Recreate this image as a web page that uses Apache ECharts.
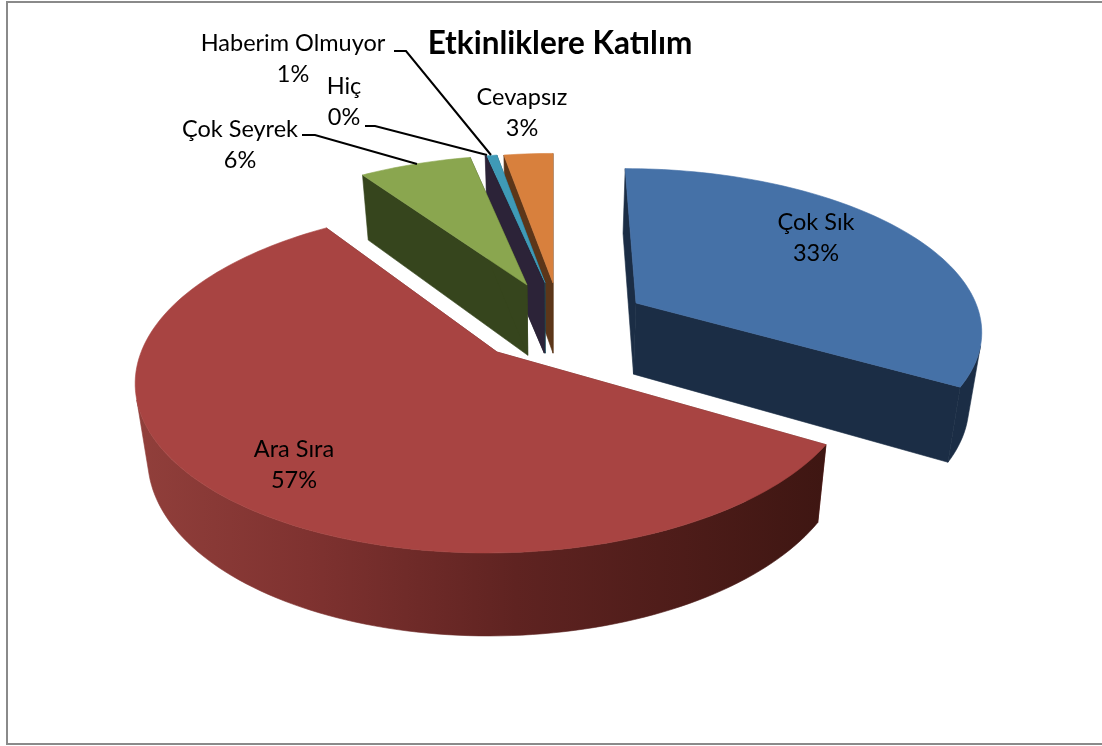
<!DOCTYPE html>
<html><head><meta charset="utf-8">
<style>html,body{margin:0;padding:0;background:#fff}#c{width:1102px;height:746px}</style>
<script src="https://cdn.jsdelivr.net/npm/echarts@6/dist/echarts.min.js"></script>
</head><body><div id="c"></div>
<script>
const chartTitle = 'Etkinliklere Katılım';
const categories = ['Çok Sık', 'Ara Sıra', 'Çok Seyrek', 'Hiç', 'Haberim Olmuyor', 'Cevapsız'];
const shares = [33.4, 57.1, 6.2, 0.04, 0.56, 2.7];

const topColors = ['#4571a7', '#a84442', '#8aa64f', '#2c2338', '#3f9ab7', '#d8803d'];
const sideColors = ['#1b2d45', '#6e2a28', '#36451d', '#2c2338', '#1d4a58', '#5c3619'];
const drawOrder = [2, 6, 5, 4, 3, 1]; // paint rank per category, low = far
const apexes = [[636, 303], [497, 352], [527, 285], [544, 283], [545, 283], [553, 283]];
const labelAnchors = [[816, 238], [294, 465], [240, 145], [344, 102], [293, 59], [522, 113]];
const leaders = [null, null,
  [[302, 135], [315, 135], [417, 164]],
  [[365, 126], [375, 126], [487, 155]],
  [[394, 51], [406, 51], [491, 155]],
  null];

const CX = 553, HORIZON = -730, C = 1052, D = 2272, R = 346;
const FONT = 'Lato, Carlito, "Open Sans", sans-serif';
const total = shares.reduce((a, b) => a + b, 0);
const starts = []; shares.reduce((a, v, i) => (starts[i] = a, a + v), 0);

function unproject(p) { const f = (p[1] - HORIZON) / C; return [(p[0] - CX) / f, D * (1 / f - 1)]; }
function project(X, Y) { const f = D / (D + Y); return [CX + X * f, HORIZON + C * f]; }
function lower(p) { return [CX + 0.97 * (p[0] - CX), p[1] + 65 + 0.0475 * (p[1] - 174)]; }
function quadArea(q) {
  let s = 0;
  q.forEach((p, k) => { const n = q[(k + 1) % q.length]; s += p[0] * n[1] - n[0] * p[1]; });
  return s;
}

const redWall = {
  type: 'linear', x: 136, y: 0, x2: 827, y2: 0, global: true,
  colorStops: [
    { offset: 0, color: '#913f3b' }, { offset: 0.25, color: '#7f3230' },
    { offset: 0.55, color: '#5f2321' }, { offset: 1, color: '#3e1612' }
  ]
};

function renderSlice(params, api) {
  const i = api.value(0), v = api.value(1);
  const a0 = starts[i] / total * 2 * Math.PI, a1 = a0 + v / total * 2 * Math.PI;
  const w = unproject(apexes[i]);
  const steps = Math.max(2, Math.ceil((a1 - a0) / (Math.PI / 120)));
  const rim = [];
  for (let s = 0; s <= steps; s++) {
    const a = a0 + (a1 - a0) * s / steps;
    rim.push(project(w[0] + R * Math.sin(a), w[1] + R * Math.cos(a)));
  }
  const apex = project(w[0], w[1]);
  const rimLow = rim.map(lower), apexLow = lower(apex);
  const z = drawOrder[i] * 10;
  const side = i === 1 ? redWall : sideColors[i];
  const poly = (points, fill, zz) => ({
    type: 'polygon', z2: zz, silent: true, shape: { points },
    style: { fill, stroke: fill, lineWidth: 0.6 }
  });
  const children = [
    poly([rim[0], apex, apexLow, rimLow[0]], sideColors[i], z),
    poly([rim[steps], apex, apexLow, rimLow[steps]], sideColors[i], z + 1)
  ];
  let first = -1, last = -1;
  for (let s = 0; s < steps; s++) {
    if (quadArea([rim[s], rim[s + 1], rimLow[s + 1], rimLow[s]]) < 0) {
      if (first < 0) first = s;
      last = s + 1;
    }
  }
  if (first >= 0) {
    children.push(poly(
      rim.slice(first, last + 1).concat(rimLow.slice(first, last + 1).reverse()),
      side, z + 2
    ));
  }
  children.push(poly([apex].concat(rim), topColors[i], z + 3));
  children.push({
    type: 'text', z2: 200, silent: true,
    style: {
      text: categories[i] + '\n' + Math.round(v) + '%',
      x: labelAnchors[i][0], y: labelAnchors[i][1],
      align: 'center', verticalAlign: 'middle',
      fontFamily: FONT, fontSize: 23.5, lineHeight: 31, fill: '#000'
    }
  });
  if (leaders[i]) children.push({
    type: 'polyline', z2: 150, silent: true,
    shape: { points: leaders[i] },
    style: { stroke: '#000', lineWidth: 2, fill: 'none' }
  });
  return { type: 'group', children };
}

const chart = echarts.init(document.getElementById('c'));
chart.setOption({
  animation: false,
  backgroundColor: '#fff',
  title: {
    text: chartTitle, left: 555, top: 23, textAlign: 'center',
    textStyle: { fontFamily: FONT, fontWeight: 'bold', fontSize: 31.5, color: '#000' }
  },
  graphic: [{
    type: 'rect', silent: true,
    shape: { x: 7, y: 2, width: 1200, height: 742 },
    style: { fill: 'none', stroke: '#8a8a8a', lineWidth: 2 }
  }],
  series: [{
    type: 'custom', coordinateSystem: 'none', renderItem: renderSlice,
    clip: false,
    data: shares.map((v, i) => ({ name: categories[i], value: [i, v] }))
  }]
});
</script></body></html>
